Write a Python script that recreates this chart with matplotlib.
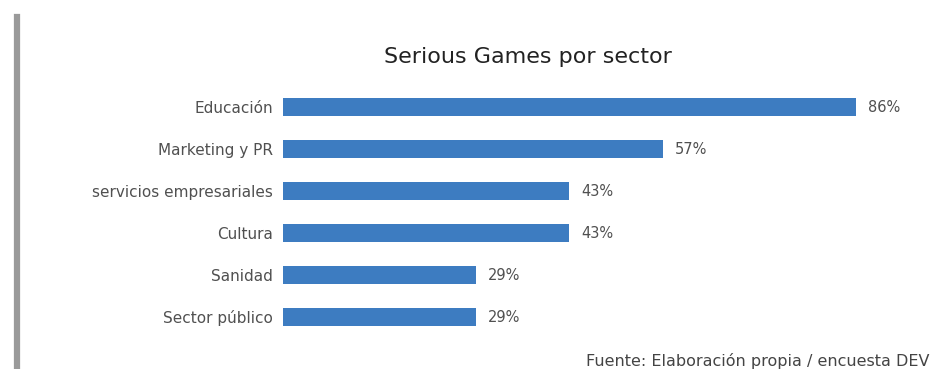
import matplotlib
matplotlib.use("Agg")
import matplotlib.pyplot as plt

categories = ["Educación", "Marketing y PR", "servicios empresariales", "Cultura", "Sanidad", "Sector público"]
values = [86, 57, 43, 43, 29, 29]
value_labels = ["86%", "57%", "43%", "43%", "29%", "29%"]

W, H = 934, 369
fig = plt.figure(figsize=(W / 100, H / 100), dpi=100)
fig.patch.set_facecolor("white")

FONT = "DejaVu Sans"
x0, x1 = 283, 283 + 100 * 6.66
top, bot = 86, 338
ax = fig.add_axes([x0 / W, 1 - bot / H, (x1 - x0) / W, (bot - top) / H])
ypos = list(range(len(categories)))
ax.barh(ypos, values, height=0.43, color="#3d7cc1")
ax.set_xlim(0, 100)
ax.set_ylim(len(categories) - 0.5, -0.5)
ax.set_yticks(ypos)
ax.set_yticklabels(categories, fontsize=11, color="#505050", family=FONT)
ax.tick_params(axis="y", length=0, pad=7)
ax.set_xticks([])
for s in ax.spines.values():
    s.set_visible(False)
for y, v, lab in zip(ypos, values, value_labels):
    ax.text(v + 1.8, y, lab, va="center", ha="left", fontsize=10.5, color="#505050", family=FONT)

fig.text(528 / W, 1 - 57 / H, "Serious Games por sector", ha="center", va="center",
         fontsize=16, color="#222222", family=FONT)
fig.text(930 / W, 1 - 361 / H, "Fuente: Elaboración propia / encuesta DEV", ha="right", va="center",
         fontsize=11.5, color="#444444", family=FONT)

# left gray vertical bar
fig.add_artist(plt.Line2D([17 / W, 17 / W], [0, 1 - 17 / H], transform=fig.transFigure,
                          color="#9a9a9a", linewidth=4.5))

fig.savefig("out.png", dpi=100)
